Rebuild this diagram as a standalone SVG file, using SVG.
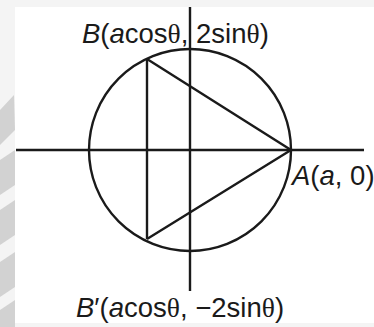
<svg xmlns="http://www.w3.org/2000/svg" width="374" height="327" viewBox="0 0 374 327">
<style>
.ln{stroke:#1a1a1a;stroke-width:2.4;fill:none;stroke-linejoin:miter}
.lb{font-family:"Liberation Sans",Arial,sans-serif;font-size:27.5px;fill:#1a1a1a}
.th{font-family:"Liberation Serif","Times New Roman",serif;font-size:27.5px}
.it{font-style:italic}
</style>
<rect x="0" y="0" width="374" height="327" fill="#f4f4f4"/>
<g id="watermark" fill="#d2d2d2">
<polygon points="0,110 14,95 15,130 0,145"/>
<polygon points="0,160 15,150 15,185 0,195"/>
<polygon points="0,210 15,200 15,235 0,245"/>
<polygon points="0,262 15,252 15,287 0,297"/>
<polygon points="0,310 15,300 15,327 0,327"/>
</g>
<rect x="15" y="7" width="359" height="316" fill="#ffffff"/>
<g id="connectors">
<line class="ln" x1="16" y1="150" x2="364" y2="150"/>
<line class="ln" x1="190" y1="7" x2="190" y2="291"/>
<line class="ln" x1="147" y1="59" x2="147" y2="239"/>
<polyline class="ln" points="147,59 291,150 147,239"/>
</g>
<g id="circle"><circle class="ln" cx="190" cy="150" r="101"/></g>
<g id="B"><text class="lb" x="82" y="43"><tspan class="it">B</tspan>(<tspan class="it">a</tspan>cos<tspan class="th">θ</tspan>, 2sin<tspan class="th">θ</tspan>)</text></g>
<g id="A"><text class="lb" x="292" y="185"><tspan class="it">A</tspan>(<tspan class="it">a</tspan>, 0)</text></g>
<g id="Bp"><text class="lb" x="76" y="317"><tspan class="it">B</tspan>′(<tspan class="it">a</tspan>cos<tspan class="th">θ</tspan>, −2sin<tspan class="th">θ</tspan>)</text></g>
</svg>
